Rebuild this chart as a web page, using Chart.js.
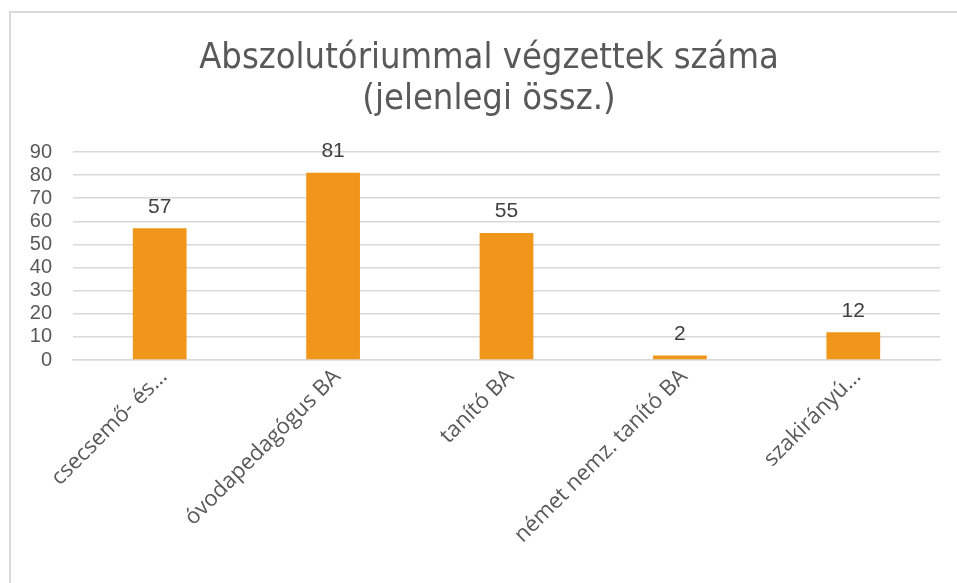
<!DOCTYPE html>
<html>
<head>
<meta charset="utf-8">
<script src="https://cdn.jsdelivr.net/npm/chart.js@4/dist/chart.umd.min.js"></script>
<style>
  html,body{margin:0;padding:0;background:#fff;}
  #wrap{position:relative;width:957px;height:583px;overflow:hidden;}
  #frame{position:absolute;left:9px;top:11px;width:1000px;height:700px;border-top:2px solid #d9d9d9;border-left:2px solid #d9d9d9;}
  canvas{position:absolute;left:0;top:0;}
</style>
</head>
<body>
<div id="wrap">
  <div id="frame"></div>
  <canvas id="chart" width="957" height="583"></canvas>
</div>
<script>
// ======================= DATA =======================
const titleLines=['Abszolutóriummal végzettek száma','(jelenlegi össz.)'];
const categories=['csecsemő- és…','óvodapedagógus BA','tanító BA','német nemz. tanító BA','szakirányú…'];
const values=[57,81,55,2,12];
const yTicks=[0,10,20,30,40,50,60,70,80,90];

const barColor='#F0961A';
const gridColor='#d9d9d9';

// ======================= TITLE (centred on the whole frame) =======================
const frameTitle={
  id:'frameTitle',
  afterDraw(chart){
    const ctx=chart.ctx;
    ctx.save();
    ctx.font='36px "DejaVu Sans Condensed", "DejaVu Sans", sans-serif';
    ctx.fillStyle='#595959';
    ctx.textAlign='center';
    ctx.textBaseline='middle';
    ctx.fillText(titleLines[0],489,59);
    ctx.fillText(titleLines[1],489,100);
    ctx.restore();
  }
};

// ======================= VALUE LABELS =======================
const valueLabels={
  id:'valueLabels',
  afterDatasetsDraw(chart){
    const ctx=chart.ctx;
    const meta=chart.getDatasetMeta(0);
    ctx.save();
    ctx.font='21px "Liberation Sans", Arial, sans-serif';
    ctx.fillStyle='#404040';
    ctx.textAlign='center';
    ctx.textBaseline='bottom';
    meta.data.forEach((bar,i)=>{
      ctx.fillText(String(values[i]),bar.x,bar.y-11);
    });
    ctx.restore();
  }
};

// ======================= CHART =======================
new Chart(document.getElementById('chart').getContext('2d'),{
  type:'bar',
  data:{
    labels:categories,
    datasets:[{data:values,backgroundColor:barColor,barPercentage:0.31,categoryPercentage:1}]
  },
  options:{
    responsive:false,
    animation:false,
    layout:{padding:{left:0,right:17,top:152,bottom:0}},
    plugins:{
      legend:{display:false},
      tooltip:{enabled:false},
      title:{display:false}
    },
    scales:{
      x:{
        grid:{display:false,drawTicks:false},
        border:{display:true,color:gridColor,width:1.5},
        ticks:{
          color:'#595959',
          font:{family:'"Open Sans", sans-serif',size:22},
          minRotation:45,maxRotation:45,
          padding:4,labelOffset:4,autoSkip:false
        },
        afterFit(scale){scale.height=223;}
      },
      y:{
        min:0,max:90,
        afterBuildTicks(scale){scale.ticks=yTicks.map(v=>({value:v}));},
        grid:{color:gridColor,lineWidth:1.5,drawTicks:false},
        border:{display:false},
        ticks:{
          color:'#595959',
          font:{family:'"Liberation Sans", Arial, sans-serif',size:20},
          padding:21,autoSkip:false
        },
        afterFit(scale){scale.width=73;}
      }
    }
  },
  plugins:[valueLabels,frameTitle]
});
</script>
</body>
</html>
